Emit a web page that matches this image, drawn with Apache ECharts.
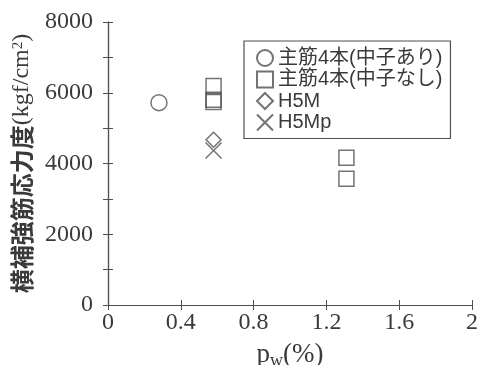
<!DOCTYPE html>
<html>
<head>
<meta charset="utf-8">
<script src="https://cdn.jsdelivr.net/npm/echarts@6/dist/echarts.min.js"></script>
<style>
  html, body { margin: 0; padding: 0; background: #fff; }
  #chart { width: 478px; height: 365px; }
</style>
</head>
<body>
<div id="chart"></div>
<script>
// Stirrup stress vs. transverse reinforcement ratio pw
const seriesNames = ['主筋4本(中子あり)', '主筋4本(中子なし)', 'H5M', 'H5Mp'];

const circleX = [0.28];
const circleY = [5720];

const squareX = [0.58, 0.58, 0.58, 1.31, 1.31];
const squareY = [6190, 5800, 5740, 4160, 3570];

const diamondX = [0.58];
const diamondY = [4670];

const crossX = [0.58];
const crossY = [4370];

const xTicks = [0, 0.4, 0.8, 1.2, 1.6, 2];
const yTicks = [0, 2000, 4000, 6000, 8000];

const ink = '#3a3a3a';
const lineInk = '#505050';
const serif = '"Liberation Serif", "Times New Roman", serif';
const sans = '"Liberation Sans", "Noto Sans CJK JP", sans-serif';

function pairs(xs, ys) { return xs.map((x, i) => [x, ys[i]]); }

const markerStyle = { color: 'rgba(0,0,0,0)', borderColor: lineInk, borderWidth: 1.5 };

const chart = echarts.init(document.getElementById('chart'), null, { renderer: 'canvas' });

const xMin = xTicks[0], xMax = xTicks[xTicks.length - 1];
const yMin = yTicks[0], yMax = yTicks[yTicks.length - 1];

chart.setOption({
  animation: false,
  backgroundColor: '#fff',
  grid: { left: 108, right: 6, top: 22, bottom: 60, containLabel: false, outerBoundsMode: 'none' },
  legend: {
    orient: 'vertical',
    left: 244,
    top: 41,
    padding: [7, 8, 6, 12],
    borderColor: lineInk,
    borderWidth: 1.2,
    itemWidth: 16,
    itemHeight: 16,
    itemGap: 1.5,
    textStyle: { fontFamily: sans, fontSize: 20, color: ink, lineHeight: 18 },
    data: seriesNames
  },
  xAxis: [{
    type: 'value', min: xMin, max: xMax, interval: 0.4,
    name: '{p|p}{w|w}{p|(%)}',
    nameLocation: 'middle', nameGap: 34,
    nameTextStyle: {
      rich: {
        p: { fontFamily: serif, fontSize: 27, color: ink },
        w: { fontFamily: serif, fontSize: 18, color: ink, verticalAlign: 'bottom', padding: [13, 0, 0, 0] }
      }
    },
    axisLine: { lineStyle: { color: lineInk, width: 1.2 } },
    axisTick: { inside: true, length: 5, lineStyle: { color: lineInk } },
    axisLabel: {
      fontFamily: serif, fontSize: 24, color: ink, margin: 6,
      formatter: v => (xTicks.includes(+v.toFixed(2)) ? String(+v.toFixed(2)) : '')
    },
    splitLine: { show: false }
  }, {
    type: 'value', min: xMin, max: xMax, interval: 0.4, position: 'top',
    axisLine: { lineStyle: { color: lineInk, width: 1.2 } },
    axisTick: { inside: true, length: 5, lineStyle: { color: lineInk } },
    axisLabel: { show: false },
    splitLine: { show: false }
  }],
  yAxis: [{
    type: 'value', min: yMin, max: yMax, interval: 1000,
    name: '{c|横補強筋応力度}{l|(kgf/cm}{s|2}{l|)}',
    nameLocation: 'middle', nameRotate: 90, nameGap: 73,
    nameTextStyle: {
      rich: {
        c: { fontFamily: '"Noto Sans CJK JP", sans-serif', fontSize: 24, color: ink, fontWeight: 'bold' },
        l: { fontFamily: serif, fontSize: 24, color: ink },
        s: { fontFamily: serif, fontSize: 15, color: ink, verticalAlign: 'top' }
      }
    },
    axisLine: { lineStyle: { color: lineInk, width: 1.2 } },
    axisTick: { inside: true, length: 5, lineStyle: { color: lineInk } },
    axisLabel: {
      fontFamily: serif, fontSize: 24, color: ink, margin: 15,
      formatter: v => (yTicks.includes(v) ? String(v) : '')
    },
    splitLine: { show: false }
  }, {
    type: 'value', min: yMin, max: yMax, interval: 1000, position: 'right',
    axisLine: { lineStyle: { color: lineInk, width: 1.2 } },
    axisTick: { inside: true, length: 5, lineStyle: { color: lineInk } },
    axisLabel: { show: false },
    splitLine: { show: false }
  }],
  series: [
    {
      name: seriesNames[0], type: 'scatter', xAxisIndex: 0, yAxisIndex: 0,
      symbol: 'circle', symbolSize: 16,
      itemStyle: markerStyle,
      data: pairs(circleX, circleY)
    },
    {
      name: seriesNames[1], type: 'scatter', xAxisIndex: 0, yAxisIndex: 0,
      symbol: 'rect', symbolSize: 15,
      itemStyle: markerStyle,
      data: pairs(squareX, squareY)
    },
    {
      name: seriesNames[2], type: 'scatter', xAxisIndex: 0, yAxisIndex: 0,
      symbol: 'diamond', symbolSize: [15, 15],
      itemStyle: markerStyle,
      data: pairs(diamondX, diamondY)
    },
    {
      name: seriesNames[3], type: 'scatter', xAxisIndex: 0, yAxisIndex: 0,
      symbol: 'path://M0,0L10,10M10,0L0,10', symbolSize: 16,
      itemStyle: markerStyle,
      data: pairs(crossX, crossY)
    }
  ]
});
</script>
</body>
</html>
